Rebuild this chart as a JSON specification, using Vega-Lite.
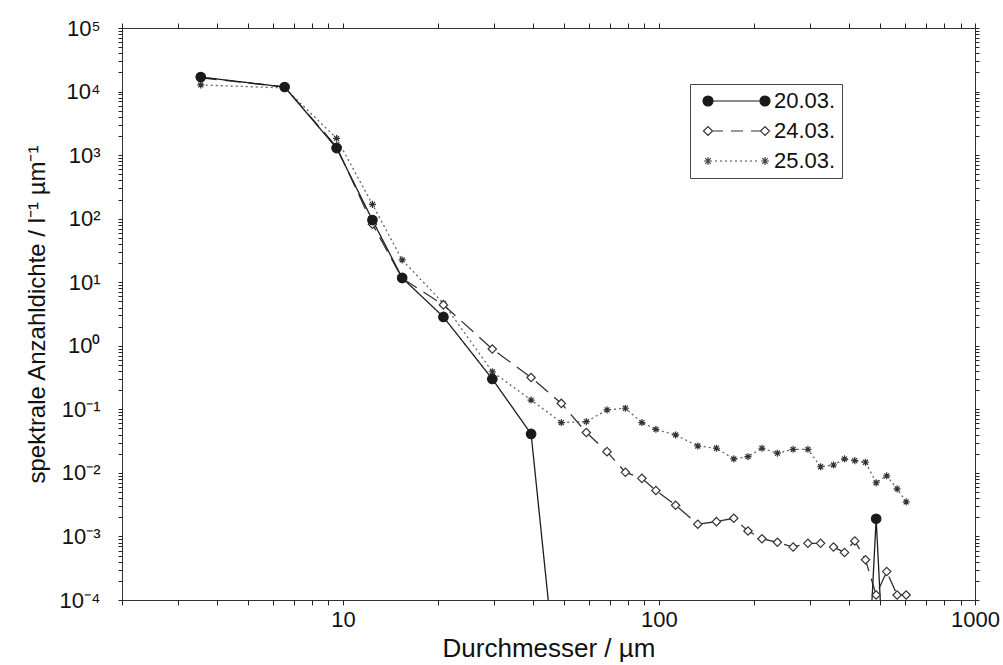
{
  "$schema": "https://vega.github.io/schema/vega-lite/v6.json",
  "autosize": "none",
  "width": 853,
  "height": 572,
  "padding": {"left": 122, "top": 28, "right": 28, "bottom": 65},
  "background": "white",
  "config": {
    "view": {"stroke": "#333", "strokeWidth": 1},
    "font": "Liberation Sans",
    "axis": {"domain": false, "grid": false, "ticks": true, "tickColor": "#222", "tickWidth": 1,
      "labelFont": "Liberation Sans", "titleFont": "Liberation Sans", "labelColor": "#111", "titleColor": "#111", "labelFontSize": 22, "titleFontWeight": "normal", "labelFlush": false, "labelOverlap": false},
    "legend": {"symbolOpacity": 1}
  },
  "datasets": {
    "d": [
      {"series": "25.03.", "d": 3.55, "n": 12700},
      {"series": "25.03.", "d": 6.54, "n": 11400},
      {"series": "25.03.", "d": 9.55, "n": 1840},
      {"series": "25.03.", "d": 12.4, "n": 168},
      {"series": "25.03.", "d": 15.4, "n": 22.4},
      {"series": "25.03.", "d": 20.8, "n": 4.66},
      {"series": "25.03.", "d": 29.7, "n": 0.39},
      {"series": "25.03.", "d": 39.4, "n": 0.14},
      {"series": "25.03.", "d": 49.1, "n": 0.062},
      {"series": "25.03.", "d": 58.9, "n": 0.064},
      {"series": "25.03.", "d": 68.5, "n": 0.098},
      {"series": "25.03.", "d": 78.3, "n": 0.104},
      {"series": "25.03.", "d": 88.3, "n": 0.062},
      {"series": "25.03.", "d": 97.8, "n": 0.0485},
      {"series": "25.03.", "d": 112.9, "n": 0.0395},
      {"series": "25.03.", "d": 132.7, "n": 0.0265},
      {"series": "25.03.", "d": 152, "n": 0.0244},
      {"series": "25.03.", "d": 172.5, "n": 0.0166},
      {"series": "25.03.", "d": 191.3, "n": 0.018},
      {"series": "25.03.", "d": 211.8, "n": 0.0244},
      {"series": "25.03.", "d": 237, "n": 0.0204},
      {"series": "25.03.", "d": 265.8, "n": 0.0235},
      {"series": "25.03.", "d": 296, "n": 0.0235},
      {"series": "25.03.", "d": 324.6, "n": 0.0125},
      {"series": "25.03.", "d": 356.7, "n": 0.0133},
      {"series": "25.03.", "d": 386.5, "n": 0.0166},
      {"series": "25.03.", "d": 416.5, "n": 0.0156},
      {"series": "25.03.", "d": 450.3, "n": 0.0147},
      {"series": "25.03.", "d": 486.7, "n": 0.0070},
      {"series": "25.03.", "d": 525.6, "n": 0.0090},
      {"series": "25.03.", "d": 567, "n": 0.0056},
      {"series": "25.03.", "d": 605.6, "n": 0.0035},
      {"series": "24.03.", "d": 3.55, "n": 16500},
      {"series": "24.03.", "d": 6.54, "n": 11800},
      {"series": "24.03.", "d": 9.55, "n": 1350},
      {"series": "24.03.", "d": 12.4, "n": 82},
      {"series": "24.03.", "d": 15.4, "n": 11.5},
      {"series": "24.03.", "d": 20.8, "n": 4.4},
      {"series": "24.03.", "d": 29.7, "n": 0.89},
      {"series": "24.03.", "d": 39.4, "n": 0.317},
      {"series": "24.03.", "d": 49.1, "n": 0.124},
      {"series": "24.03.", "d": 58.9, "n": 0.0432},
      {"series": "24.03.", "d": 68.5, "n": 0.0216},
      {"series": "24.03.", "d": 78.3, "n": 0.0102},
      {"series": "24.03.", "d": 88.3, "n": 0.0082},
      {"series": "24.03.", "d": 97.8, "n": 0.0053},
      {"series": "24.03.", "d": 112.9, "n": 0.0031},
      {"series": "24.03.", "d": 132.7, "n": 0.00156},
      {"series": "24.03.", "d": 152, "n": 0.00171},
      {"series": "24.03.", "d": 172.5, "n": 0.00193},
      {"series": "24.03.", "d": 191.3, "n": 0.00122},
      {"series": "24.03.", "d": 211.8, "n": 0.00092},
      {"series": "24.03.", "d": 237, "n": 0.00081},
      {"series": "24.03.", "d": 265.8, "n": 0.00068},
      {"series": "24.03.", "d": 296, "n": 0.00078},
      {"series": "24.03.", "d": 324.6, "n": 0.00078},
      {"series": "24.03.", "d": 356.7, "n": 0.00068},
      {"series": "24.03.", "d": 386.5, "n": 0.00056},
      {"series": "24.03.", "d": 416.5, "n": 0.00085},
      {"series": "24.03.", "d": 450.3, "n": 0.00043},
      {"series": "24.03.", "d": 486.7, "n": 0.00012},
      {"series": "24.03.", "d": 525.6, "n": 0.00028},
      {"series": "24.03.", "d": 567, "n": 0.00012},
      {"series": "24.03.", "d": 605.6, "n": 0.00012},
      {"series": "20.03.", "d": 3.55, "n": 16900},
      {"series": "20.03.", "d": 6.54, "n": 11800},
      {"series": "20.03.", "d": 9.55, "n": 1290},
      {"series": "20.03.", "d": 12.4, "n": 95},
      {"series": "20.03.", "d": 15.4, "n": 11.7},
      {"series": "20.03.", "d": 20.8, "n": 2.84},
      {"series": "20.03.", "d": 29.7, "n": 0.30},
      {"series": "20.03.", "d": 39.4, "n": 0.041},
      {"series": "20.03.", "d": 49.1, "n": 0.000001},
      {"series": "20.03.", "d": 58.9, "n": 0.000001},
      {"series": "20.03.", "d": 68.5, "n": 0.000001},
      {"series": "20.03.", "d": 78.3, "n": 0.000001},
      {"series": "20.03.", "d": 88.3, "n": 0.000001},
      {"series": "20.03.", "d": 97.8, "n": 0.000001},
      {"series": "20.03.", "d": 112.9, "n": 0.000001},
      {"series": "20.03.", "d": 132.7, "n": 0.000001},
      {"series": "20.03.", "d": 152, "n": 0.000001},
      {"series": "20.03.", "d": 172.5, "n": 0.000001},
      {"series": "20.03.", "d": 191.3, "n": 0.000001},
      {"series": "20.03.", "d": 211.8, "n": 0.000001},
      {"series": "20.03.", "d": 237, "n": 0.000001},
      {"series": "20.03.", "d": 265.8, "n": 0.000001},
      {"series": "20.03.", "d": 296, "n": 0.000001},
      {"series": "20.03.", "d": 324.6, "n": 0.000001},
      {"series": "20.03.", "d": 356.7, "n": 0.000001},
      {"series": "20.03.", "d": 386.5, "n": 0.000001},
      {"series": "20.03.", "d": 416.5, "n": 0.000001},
      {"series": "20.03.", "d": 450.3, "n": 0.000001},
      {"series": "20.03.", "d": 486.7, "n": 0.0019},
      {"series": "20.03.", "d": 525.6, "n": 0.000001},
      {"series": "20.03.", "d": 567, "n": 0.000001},
      {"series": "20.03.", "d": 605.6, "n": 0.000001}
    ]
  },
  "data": {"name": "d"},
  "resolve": {
    "scale": {"shape": "independent", "fill": "independent", "stroke": "independent", "size": "independent"},
    "axis": {"x": "independent", "y": "independent"}
  },
  "layer": [
    {
      "mark": {"type": "line", "clip": true, "strokeWidth": 1.3},
      "encoding": {
        "x": {"field": "d", "type": "quantitative", "scale": {"type": "log", "domain": [2, 1000], "nice": false},
          "axis": {"orient": "bottom", "title": "Durchmesser / µm", "titleFontSize": 26, "tickSize": 5,
            "values": [2,3,4,5,6,7,8,9,10,20,30,40,50,60,70,80,90,100,200,300,400,500,600,700,800,900,1000],
            "labelExpr": "abs(log(datum.value)/LN10 - round(log(datum.value)/LN10)) < 0.001 ? '' + datum.value : ''",
            "labelPadding": 4, "titlePadding": 5}},
        "y": {"field": "n", "type": "quantitative", "scale": {"type": "log", "domain": [0.0001, 100000], "nice": false},
          "axis": {"orient": "left", "title": "spektrale Anzahldichte / l⁻¹ µm⁻¹", "titleFontSize": 24, "tickSize": 4,
            "values": [0.0001,0.0002,0.0003,0.0004,0.0005,0.0006,0.0007,0.0008,0.0009,0.001,0.002,0.003,0.004,0.005,0.006,0.007,0.008,0.009,0.01,0.02,0.03,0.04,0.05,0.06,0.07,0.08,0.09,0.1,0.2,0.3,0.4,0.5,0.6,0.7,0.8,0.9,1,2,3,4,5,6,7,8,9,10,20,30,40,50,60,70,80,90,100,200,300,400,500,600,700,800,900,1000,2000,3000,4000,5000,6000,7000,8000,9000,10000,20000,30000,40000,50000,60000,70000,80000,90000,100000],
            "labelExpr": "abs(log(datum.value)/LN10 - round(log(datum.value)/LN10)) < 0.001 ? '10' + (round(log(datum.value)/LN10) < 0 ? '⁻' : '') + ['⁰','¹','²','³','⁴','⁵','⁶','⁷','⁸','⁹'][abs(round(log(datum.value)/LN10))] : ''",
            "labelPadding": 18, "titlePadding": 10}},
        "stroke": {"field": "series", "type": "nominal", "scale": {"domain": ["20.03.", "24.03.", "25.03."], "range": ["#1e1e1e", "#333", "#666"]}, "legend": null},
        "strokeDash": {"field": "series", "type": "nominal", "scale": {"domain": ["20.03.", "24.03.", "25.03."], "range": [[1, 0], [16, 8], [2, 3]]}, "legend": null}
      }
    },
    {
      "mark": {"type": "point", "clip": true, "strokeWidth": 1.2, "opacity": 1},
      "encoding": {
        "x": {"field": "d", "type": "quantitative", "axis": {"orient": "top", "title": null, "labels": false, "tickSize": 5,
            "values": [2,3,4,5,6,7,8,9,10,20,30,40,50,60,70,80,90,100,200,300,400,500,600,700,800,900,1000]}},
        "y": {"field": "n", "type": "quantitative", "axis": {"orient": "right", "title": null, "labels": false, "tickSize": 4,
            "values": [0.0001,0.0002,0.0003,0.0004,0.0005,0.0006,0.0007,0.0008,0.0009,0.001,0.002,0.003,0.004,0.005,0.006,0.007,0.008,0.009,0.01,0.02,0.03,0.04,0.05,0.06,0.07,0.08,0.09,0.1,0.2,0.3,0.4,0.5,0.6,0.7,0.8,0.9,1,2,3,4,5,6,7,8,9,10,20,30,40,50,60,70,80,90,100,200,300,400,500,600,700,800,900,1000,2000,3000,4000,5000,6000,7000,8000,9000,10000,20000,30000,40000,50000,60000,70000,80000,90000,100000]}},
        "shape": {"field": "series", "type": "nominal", "scale": {"domain": ["20.03.", "24.03.", "25.03."], "range": ["circle", "diamond", "M-1,0L1,0M0,-1L0,1M-0.7,-0.7L0.7,0.7M-0.7,0.7L0.7,-0.7"]}, "legend": null},
        "fill": {"field": "series", "type": "nominal", "scale": {"domain": ["20.03.", "24.03.", "25.03."], "range": ["#1a1a1a", "white", "#333"]}, "legend": null},
        "stroke": {"field": "series", "type": "nominal", "scale": {"domain": ["20.03.", "24.03.", "25.03."], "range": ["#1a1a1a", "#333", "#333"]}, "legend": null},
        "size": {"field": "series", "type": "nominal", "scale": {"domain": ["20.03.", "24.03.", "25.03."], "range": [90, 50, 45]}, "legend": null}
      }
    },
    {
      "mark": {"type": "point", "opacity": 0, "size": 400, "strokeWidth": 1.2, "filled": false},
      "encoding": {
        "x": {"field": "d", "type": "quantitative", "axis": null},
        "y": {"field": "n", "type": "quantitative", "axis": null},
        "shape": {"field": "series", "type": "nominal",
          "scale": {"domain": ["20.03.", "24.03.", "25.03."], "range": [
            "M0.1,0L5.8,0M-0.4,0A0.5,0.5 0 1,0 0.6,0A0.5,0.5 0 1,0 -0.4,0ZM5.3,0A0.5,0.5 0 1,0 6.3,0A0.5,0.5 0 1,0 5.3,0Z",
            "M-0.35,0L0.1,-0.45L0.55,0L0.1,0.45ZM0.55,0L1.6,0M2.4,0L3.6,0M4.4,0L5.35,0M5.35,0L5.8,-0.45L6.25,0L5.8,0.45Z",
            "M-0.3,0L0.5,0M0.1,-0.4L0.1,0.4M-0.18,-0.28L0.38,0.28M-0.18,0.28L0.38,-0.28M0.8,0L1,0M1.3,0L1.5,0M1.8,0L2,0M2.3,0L2.5,0M2.8,0L3,0M3.3,0L3.5,0M3.8,0L4,0M4.3,0L4.5,0M4.8,0L5,0M5.4,0L6.2,0M5.8,-0.4L5.8,0.4M5.52,-0.28L6.08,0.28M5.52,0.28L6.08,-0.28"
          ]},
          "legend": {"title": null, "orient": "none", "legendX": 568, "legendY": 56, "strokeColor": "#444", "fillColor": "white", "padding": 6, "labelFontSize": 22, "labelFont": "Liberation Sans", "labelColor": "#111", "rowPadding": 8, "labelOffset": 56, "labelExpr": "datum.label + ' '", "symbolSize": 400, "symbolStrokeWidth": 1.2, "symbolOpacity": 1}},
        "fill": {"field": "series", "type": "nominal", "scale": {"domain": ["20.03.", "24.03.", "25.03."], "range": ["#1a1a1a", "white", "transparent"]},
          "legend": {"title": null, "orient": "none", "legendX": 568, "legendY": 56, "strokeColor": "#444", "fillColor": "white", "padding": 6, "labelFontSize": 22, "labelFont": "Liberation Sans", "labelColor": "#111", "rowPadding": 8, "labelOffset": 56, "labelExpr": "datum.label + ' '", "symbolSize": 400, "symbolStrokeWidth": 1.2, "symbolOpacity": 1}},
        "stroke": {"field": "series", "type": "nominal", "scale": {"domain": ["20.03.", "24.03.", "25.03."], "range": ["#1a1a1a", "#333", "#444"]},
          "legend": {"title": null, "orient": "none", "legendX": 568, "legendY": 56, "strokeColor": "#444", "fillColor": "white", "padding": 6, "labelFontSize": 22, "labelFont": "Liberation Sans", "labelColor": "#111", "rowPadding": 8, "labelOffset": 56, "labelExpr": "datum.label + ' '", "symbolSize": 400, "symbolStrokeWidth": 1.2, "symbolOpacity": 1}}
      }
    }
  ]
}
